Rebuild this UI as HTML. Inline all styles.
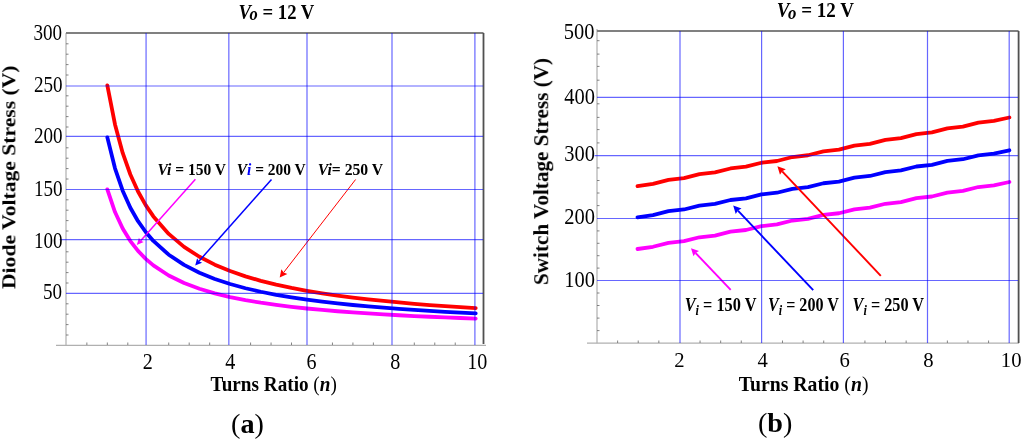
<!DOCTYPE html>
<html><head><meta charset="utf-8"><title>Voltage stress vs turns ratio</title><style>
html,body{margin:0;padding:0;background:#fff;width:1024px;height:441px;overflow:hidden}
svg{display:block}
text{font-family:"Liberation Serif",serif}
</style></head><body>
<svg width="1024" height="441" viewBox="0 0 1024 441">
<rect width="1024" height="441" fill="#fff"/>
<line x1="66" y1="33" x2="66" y2="345.4" stroke="#cfcfcf" stroke-width="2"/>
<line x1="56" y1="345.4" x2="486" y2="345.4" stroke="#b0b0b0" stroke-width="1.3"/>
<line x1="66" y1="33" x2="483.5" y2="33" stroke="#808080" stroke-width="2"/>
<line x1="483.5" y1="33" x2="483.5" y2="344" stroke="#505050" stroke-width="1.8"/>
<path d="M66,335.00h2.5 M66,324.60h2.5 M66,314.20h2.5 M66,303.80h2.5 M66,283.00h2.5 M66,272.60h2.5 M66,262.20h2.5 M66,251.80h2.5 M66,231.00h2.5 M66,220.60h2.5 M66,210.20h2.5 M66,199.80h2.5 M66,179.00h2.5 M66,168.60h2.5 M66,158.20h2.5 M66,147.80h2.5 M66,127.00h2.5 M66,116.60h2.5 M66,106.20h2.5 M66,95.80h2.5 M66,75.00h2.5 M66,64.60h2.5 M66,54.20h2.5 M66,43.80h2.5" stroke="#666" stroke-width="0.8" fill="none"/>
<path d="M86.87,345v-2.5 M107.33,345v-2.5 M127.80,345v-2.5 M168.73,345v-2.5 M189.19,345v-2.5 M209.66,345v-2.5 M250.59,345v-2.5 M271.05,345v-2.5 M291.51,345v-2.5 M332.45,345v-2.5 M352.91,345v-2.5 M373.38,345v-2.5 M414.30,345v-2.5 M434.77,345v-2.5 M455.24,345v-2.5" stroke="#666" stroke-width="0.8" fill="none"/>
<line x1="597" y1="29" x2="597" y2="343.2" stroke="#cfcfcf" stroke-width="2"/>
<line x1="587" y1="343.2" x2="1019" y2="343.2" stroke="#b0b0b0" stroke-width="1.3"/>
<line x1="597" y1="31" x2="1018.6" y2="31" stroke="#808080" stroke-width="2"/>
<line x1="1018.6" y1="31" x2="1018.6" y2="343" stroke="#505050" stroke-width="1.8"/>
<path d="M597,40.70h2.5 M597,54.10h2.5 M597,66.40h2.5 M597,80.20h2.5 M597,103.80h2.5 M597,117.40h2.5 M597,129.60h2.5 M597,142.90h2.5 M597,167.90h2.5 M597,180.50h2.5 M597,193.00h2.5 M597,205.60h2.5 M597,230.90h2.5 M597,243.30h2.5 M597,255.70h2.5 M597,268.10h2.5 M597,293.00h2.5 M597,305.50h2.5 M597,318.10h2.5 M597,330.60h2.5" stroke="#666" stroke-width="0.8" fill="none"/>
<path d="M617.61,343v-2.5 M638.22,343v-2.5 M658.83,343v-2.5 M700.05,343v-2.5 M720.66,343v-2.5 M741.27,343v-2.5 M782.49,343v-2.5 M803.10,343v-2.5 M823.71,343v-2.5 M864.93,343v-2.5 M885.54,343v-2.5 M906.15,343v-2.5 M947.37,343v-2.5 M967.98,343v-2.5 M988.59,343v-2.5" stroke="#666" stroke-width="0.8" fill="none"/>
<polyline points="107.33,189.40 115.00,212.06 122.68,228.54 130.35,241.07 138.03,250.91 145.70,258.85 153.38,265.38 168.73,275.51 184.07,283.00 199.42,288.76 214.77,293.33 230.12,297.04 245.47,300.12 260.82,302.71 276.17,304.92 291.51,306.83 306.86,308.49 322.21,309.96 337.56,311.26 352.91,312.42 368.26,313.46 383.61,314.40 398.96,315.26 414.30,316.04 429.65,316.75 445.00,317.40 460.35,318.01 475.70,318.57" fill="none" stroke="#ff00ff" stroke-width="3.8" stroke-linecap="round" stroke-linejoin="round"/>
<polyline points="107.33,137.40 115.00,168.27 122.68,190.72 130.35,207.79 138.03,221.19 145.70,232.01 153.38,240.91 168.73,254.71 184.07,264.91 199.42,272.76 214.77,278.98 230.12,284.04 245.47,288.23 260.82,291.76 276.17,294.77 291.51,297.37 306.86,299.64 322.21,301.64 337.56,303.41 352.91,304.99 368.26,306.41 383.61,307.69 398.96,308.86 414.30,309.92 429.65,310.89 445.00,311.78 460.35,312.61 475.70,313.37" fill="none" stroke="#0000ff" stroke-width="3.8" stroke-linecap="round" stroke-linejoin="round"/>
<polyline points="107.33,85.40 115.00,124.48 122.68,152.91 130.35,174.51 138.03,191.48 145.70,205.17 153.38,216.44 168.73,233.91 184.07,246.83 199.42,256.76 214.77,264.64 230.12,271.04 245.47,276.34 260.82,280.81 276.17,284.62 291.51,287.92 306.86,290.79 322.21,293.32 337.56,295.56 352.91,297.56 368.26,299.36 383.61,300.98 398.96,302.46 414.30,303.80 429.65,305.03 445.00,306.16 460.35,307.20 475.70,308.17" fill="none" stroke="#ff0000" stroke-width="3.8" stroke-linecap="round" stroke-linejoin="round"/>
<polyline points="637.50,249.00 653.00,246.76 668.49,242.87 683.99,241.18 699.48,237.28 714.98,235.59 730.48,231.70 745.97,230.01 761.47,226.12 776.96,224.43 792.46,220.53 807.95,218.84 823.45,214.95 838.95,213.26 854.44,209.37 869.94,207.68 885.43,203.78 900.93,202.09 916.42,198.20 931.92,196.51 947.42,192.62 962.91,190.93 978.41,187.03 993.90,185.34 1009.40,182.00" fill="none" stroke="#ff00ff" stroke-width="3.8" stroke-linecap="round" stroke-linejoin="round"/>
<polyline points="637.50,217.30 653.00,215.06 668.49,211.17 683.99,209.48 699.48,205.58 714.98,203.89 730.48,200.00 745.97,198.31 761.47,194.42 776.96,192.73 792.46,188.83 807.95,187.14 823.45,183.25 838.95,181.56 854.44,177.67 869.94,175.98 885.43,172.08 900.93,170.39 916.42,166.50 931.92,164.81 947.42,160.92 962.91,159.23 978.41,155.33 993.90,153.64 1009.40,150.30" fill="none" stroke="#0000ff" stroke-width="3.8" stroke-linecap="round" stroke-linejoin="round"/>
<polyline points="637.50,186.20 653.00,183.89 668.49,179.92 683.99,178.16 699.48,174.20 714.98,172.44 730.48,168.47 745.97,166.71 761.47,162.75 776.96,160.99 792.46,157.02 807.95,155.26 823.45,151.30 838.95,149.54 854.44,145.57 869.94,143.81 885.43,139.85 900.93,138.09 916.42,134.12 931.92,132.36 947.42,128.40 962.91,126.64 978.41,122.67 993.90,120.91 1009.40,117.50" fill="none" stroke="#ff0000" stroke-width="3.8" stroke-linecap="round" stroke-linejoin="round"/>
<line x1="195.4" y1="179.2" x2="140.66" y2="240.67" stroke="#ff00ff" stroke-width="1.5"/><polygon points="136.8,245.0 138.93,237.79 140.66,240.67 143.71,242.05" fill="#ff00ff"/>
<line x1="271.5" y1="179.5" x2="198.92" y2="261.21" stroke="#0000ff" stroke-width="1.5"/><polygon points="195.2,265.4 197.12,258.27 198.92,261.21 202.05,262.66" fill="#0000ff"/>
<line x1="355.6" y1="179.5" x2="283.74" y2="272.38" stroke="#ff0000" stroke-width="1.0"/><polygon points="279.7,277.6 281.35,269.26 283.74,272.38 287.36,273.91" fill="#ff0000"/>
<line x1="730.7" y1="289.8" x2="695.56" y2="252.97" stroke="#ff00ff" stroke-width="1.9"/><polygon points="691.0,248.2 699.00,251.07 695.56,252.97 693.50,256.32" fill="#ff00ff"/>
<line x1="813.2" y1="290.2" x2="737.94" y2="210.61" stroke="#0000ff" stroke-width="1.9"/><polygon points="733.2,205.6 741.53,208.59 737.94,210.61 735.72,214.09" fill="#0000ff"/>
<line x1="880.8" y1="275.8" x2="782.20" y2="171.29" stroke="#ff0000" stroke-width="1.9"/><polygon points="777.4,166.2 785.80,169.27 782.20,171.29 779.98,174.76" fill="#ff0000"/>
<line x1="146.07" y1="33" x2="146.07" y2="345" stroke="#0000ff" stroke-opacity="0.6" stroke-width="1.2"/>
<line x1="228.84" y1="33" x2="228.84" y2="345" stroke="#0000ff" stroke-opacity="0.6" stroke-width="1.2"/>
<line x1="307.0" y1="33" x2="307.0" y2="345" stroke="#0000ff" stroke-opacity="0.6" stroke-width="1.2"/>
<line x1="392.0" y1="33" x2="392.0" y2="345" stroke="#0000ff" stroke-opacity="0.6" stroke-width="1.2"/>
<line x1="474.9" y1="33" x2="474.9" y2="345" stroke="#0000ff" stroke-opacity="0.6" stroke-width="1.2"/>
<line x1="66" y1="86.0" x2="483" y2="86.0" stroke="#0000ff" stroke-opacity="0.6" stroke-width="1.2"/>
<line x1="66" y1="136.4" x2="483" y2="136.4" stroke="#0000ff" stroke-opacity="0.6" stroke-width="1.2"/>
<line x1="66" y1="189.5" x2="483" y2="189.5" stroke="#0000ff" stroke-opacity="0.6" stroke-width="1.2"/>
<line x1="59.7" y1="239.7" x2="483" y2="239.7" stroke="#0000ff" stroke-opacity="0.6" stroke-width="1.2"/>
<line x1="66" y1="293.4" x2="483" y2="293.4" stroke="#0000ff" stroke-opacity="0.6" stroke-width="1.2"/>
<line x1="680.0" y1="31" x2="680.0" y2="343" stroke="#0000ff" stroke-opacity="0.6" stroke-width="1.2"/>
<line x1="761.6" y1="31" x2="761.6" y2="343" stroke="#0000ff" stroke-opacity="0.6" stroke-width="1.2"/>
<line x1="843.4" y1="31" x2="843.4" y2="343" stroke="#0000ff" stroke-opacity="0.6" stroke-width="1.2"/>
<line x1="927.5" y1="31" x2="927.5" y2="343" stroke="#0000ff" stroke-opacity="0.6" stroke-width="1.2"/>
<line x1="1009.2" y1="31" x2="1009.2" y2="343" stroke="#0000ff" stroke-opacity="0.6" stroke-width="1.2"/>
<line x1="597" y1="97.3" x2="1018" y2="97.3" stroke="#0000ff" stroke-opacity="0.6" stroke-width="1.2"/>
<line x1="594.5" y1="155.6" x2="1018" y2="155.6" stroke="#0000ff" stroke-opacity="0.6" stroke-width="1.2"/>
<line x1="597" y1="218.5" x2="1018" y2="218.5" stroke="#0000ff" stroke-opacity="0.6" stroke-width="1.2"/>
<line x1="597" y1="280.5" x2="1018" y2="280.5" stroke="#0000ff" stroke-opacity="0.6" stroke-width="1.2"/>
<g font-family="Liberation Serif" fill="#000" opacity="0.999">
<text id="titleL" transform="translate(238.423,18.985) scale(0.8905,1.0153)" font-size="21" font-weight="bold"><tspan font-style="italic">V</tspan><tspan font-style="italic" font-size="18.5" dx="-1.5" dy="1">o</tspan><tspan dy="-1"> = 12 V</tspan></text>
<text id="titleR" transform="translate(776.694,17.497) scale(0.9072,1.0153)" font-size="21" font-weight="bold"><tspan font-style="italic">V</tspan><tspan font-style="italic" font-size="18.5" dx="-1.5" dy="1">o</tspan><tspan dy="-1"> = 12 V</tspan></text>
<text id="turnsL" transform="translate(210.609,390.980) scale(0.9366,0.9844)" font-size="20.5" font-weight="bold">Turns Ratio <tspan font-weight="normal">(</tspan><tspan font-style="italic">n</tspan><tspan font-weight="normal">)</tspan></text>
<text id="turnsR" transform="translate(738.683,390.980) scale(0.9634,0.9844)" font-size="20.5" font-weight="bold">Turns Ratio <tspan font-weight="normal">(</tspan><tspan font-style="italic">n</tspan><tspan font-weight="normal">)</tspan></text>
<text id="a" transform="translate(231.022,433.135) scale(1.0863,1.0715)" font-size="26" font-weight="normal">(<tspan font-weight="bold">a</tspan>)</text>
<text id="b" transform="translate(757.973,432.273) scale(1.0849,1.0325)" font-size="26" font-weight="normal">(<tspan font-weight="bold">b</tspan>)</text>
<text id="lab150" transform="translate(157.486,174.514) scale(0.8404,0.9413)" font-size="18.5" font-weight="bold"><tspan font-style="italic">Vi</tspan> = 150 V</text>
<text id="lab200" transform="translate(236.712,174.514) scale(0.8355,0.9413)" font-size="18.5" font-weight="bold"><tspan font-style="italic">V<tspan fill="#0000ff">i</tspan></tspan> = 200 V</text>
<text id="lab250" transform="translate(317.778,174.514) scale(0.8503,0.9413)" font-size="18.5" font-weight="bold"><tspan font-style="italic">Vi</tspan>= 250 V</text>
<text id="rlab150" transform="translate(684.645,311.118) scale(0.8827,0.9704)" font-size="18.5" font-weight="bold"><tspan font-style="italic">V</tspan><tspan font-style="italic" font-size="14" dy="3.5">i</tspan><tspan dy="-3.5"> = 150 V</tspan></text>
<text id="rlab200" transform="translate(767.976,311.118) scale(0.8702,0.9704)" font-size="18.5" font-weight="bold"><tspan font-style="italic">V</tspan><tspan font-style="italic" font-size="14" dy="3.5">i</tspan><tspan dy="-3.5"> = 200 V</tspan></text>
<text id="rlab250" transform="translate(852.561,311.118) scale(0.8779,0.9704)" font-size="18.5" font-weight="bold"><tspan font-style="italic">V</tspan><tspan font-style="italic" font-size="14" dy="3.5">i</tspan><tspan dy="-3.5"> = 250 V</tspan></text>
<text id="ylabL" transform="translate(15.783,289.004) rotate(-90) scale(1.0816,0.9690)" font-size="20" font-weight="bold">Diode Voltage Stress (V)</text>
<text id="ylabR" transform="translate(548.317,285.059) rotate(-90) scale(1.0592,1.0059)" font-size="20" font-weight="bold">Switch Voltage Stress (V)</text>
<text id="ly300" transform="translate(33.481,39.522) scale(0.8680,1.0400)" font-size="22" font-weight="normal">300</text>
<text id="ly250" transform="translate(33.961,92.000) scale(0.8680,1.0400)" font-size="22" font-weight="normal">250</text>
<text id="ly200" transform="translate(33.961,142.771) scale(0.8680,1.0400)" font-size="22" font-weight="normal">200</text>
<text id="ly150" transform="translate(33.998,195.867) scale(0.8680,1.0400)" font-size="22" font-weight="normal">150</text>
<text id="ly100" transform="translate(33.975,248.200) scale(0.8680,1.0400)" font-size="22" font-weight="normal">100</text>
<text id="ly50" transform="translate(42.941,299.200) scale(0.8680,1.0400)" font-size="22" font-weight="normal">50</text>
<text id="ry500" transform="translate(563.766,39.206) scale(0.9300,1.0650)" font-size="22" font-weight="normal">500</text>
<text id="ry400" transform="translate(564.364,104.000) scale(0.9300,1.0650)" font-size="22" font-weight="normal">400</text>
<text id="ry300" transform="translate(564.338,161.307) scale(0.9300,1.0650)" font-size="22" font-weight="normal">300</text>
<text id="ry200" transform="translate(564.276,224.000) scale(0.9300,1.0650)" font-size="22" font-weight="normal">200</text>
<text id="ry100" transform="translate(564.222,286.600) scale(0.9300,1.0650)" font-size="22" font-weight="normal">100</text>
<text id="lx2" transform="translate(142.871,369.186) scale(0.9140,1.0150)" font-size="22" font-weight="normal">2</text>
<text id="lx4" transform="translate(225.251,369.186) scale(0.9140,1.0150)" font-size="22" font-weight="normal">4</text>
<text id="lx6" transform="translate(306.438,369.186) scale(0.9140,1.0150)" font-size="22" font-weight="normal">6</text>
<text id="lx8" transform="translate(390.196,369.186) scale(0.9140,1.0150)" font-size="22" font-weight="normal">8</text>
<text id="lx10" transform="translate(467.322,369.186) scale(0.9140,1.0150)" font-size="22" font-weight="normal">10</text>
<text id="rx2" transform="translate(674.154,366.813) scale(0.9400,0.9850)" font-size="22" font-weight="normal">2</text>
<text id="rx4" transform="translate(757.611,366.813) scale(0.9400,0.9850)" font-size="22" font-weight="normal">4</text>
<text id="rx6" transform="translate(839.590,366.813) scale(0.9400,0.9850)" font-size="22" font-weight="normal">6</text>
<text id="rx8" transform="translate(923.348,366.813) scale(0.9400,0.9850)" font-size="22" font-weight="normal">8</text>
<text id="rx10" transform="translate(1000.798,366.813) scale(0.9400,0.9850)" font-size="22" font-weight="normal">10</text>
</g>
</svg>
</body></html>
